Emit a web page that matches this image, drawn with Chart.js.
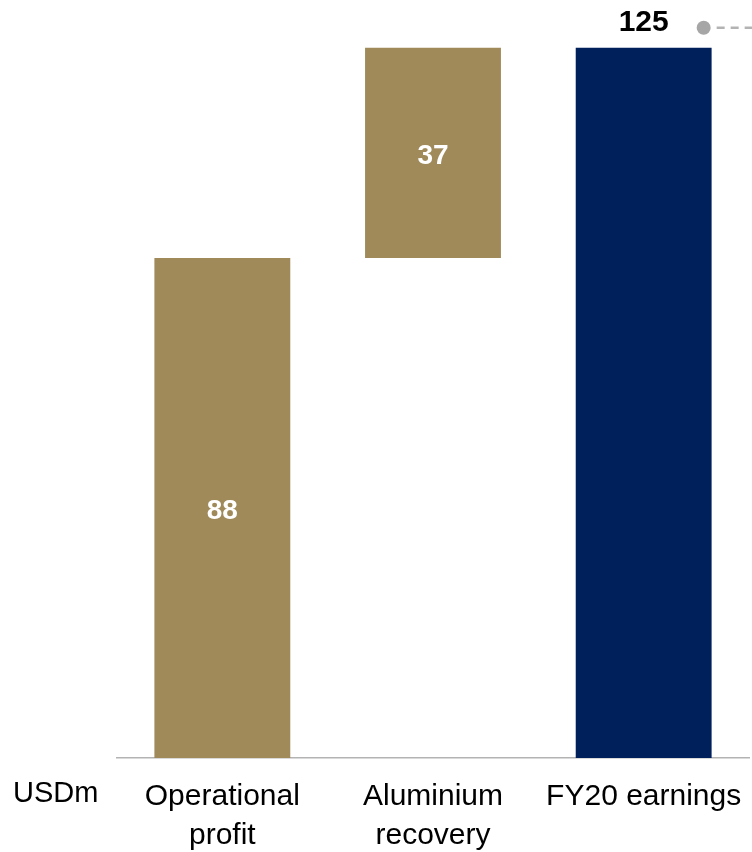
<!DOCTYPE html>
<html>
<head>
<meta charset="utf-8">
<script src="https://cdn.jsdelivr.net/npm/chart.js@4/dist/chart.umd.min.js"></script>
<style>
  body { margin: 0; background: #fff; }
  canvas { display: block; }
</style>
</head>
<body>
<canvas id="bridge-chart" width="752" height="852"></canvas>
<script>
const categories = [["Operational", "profit"], ["Aluminium", "recovery"], "FY20 earnings"];
const barStarts = [0, 88, 0];
const barEnds = [88, 125, 125];
const valueLabels = [88, 37, 125];
const unitLabel = "USDm";

const gold = "#a08a5a";
const navy = "#00205b";
const fontFamily = "'Liberation Sans', Arial, sans-serif";

const ctx = document.getElementById("bridge-chart").getContext("2d");

// value labels: inside the step bars, above the total bar
const barValues = {
  id: "barValues",
  afterDatasetsDraw(chart) {
    const c = chart.ctx;
    const meta = chart.getDatasetMeta(0);
    c.save();
    c.textAlign = "center";
    c.textBaseline = "middle";
    meta.data.forEach((bar, i) => {
      const isTotal = i === meta.data.length - 1;
      if (isTotal) {
        c.font = "bold 30px " + fontFamily;
        c.fillStyle = "#000";
        c.fillText(valueLabels[i], bar.x, bar.y - 25);
        // connector to the next panel
        const y = bar.y - 20;
        const x0 = bar.x + 60;
        c.fillStyle = "#a6a6a6";
        c.beginPath();
        c.arc(x0, y, 7, 0, Math.PI * 2);
        c.fill();
        c.strokeStyle = "#b3b3b3";
        c.lineWidth = 2.5;
        c.setLineDash([8, 6]);
        c.beginPath();
        c.moveTo(x0 + 13, y);
        c.lineTo(chart.width, y);
        c.stroke();
      } else {
        c.font = "bold 28px " + fontFamily;
        c.fillStyle = "#fff";
        c.fillText(valueLabels[i], bar.x, (bar.y + bar.base) / 2 + 3);
      }
    });
    c.restore();

    // unit label at the left of the category axis
    c.save();
    c.font = "29px " + fontFamily;
    c.fillStyle = "#000";
    c.textAlign = "left";
    c.textBaseline = "middle";
    c.fillText(unitLabel, 13, 794);
    c.restore();
  },
};

const bridgeChart = new Chart(ctx, {
  type: "bar",
  data: {
    labels: categories,
    datasets: [
      {
        data: barStarts.map((s, i) => [s, barEnds[i]]),
        backgroundColor: [gold, gold, navy],
        borderWidth: 0,
        barPercentage: 0.645,
        categoryPercentage: 1,
      },
    ],
  },
  options: {
    responsive: false,
    animation: false,
    layout: { padding: { left: 117, top: 8, right: 3, bottom: 0 } },
    plugins: {
      legend: { display: false },
      tooltip: { enabled: false },
    },
    scales: {
      x: {
        grid: { display: false, drawTicks: false },
        border: { color: "#b3b3b3", width: 1.5 },
        ticks: {
          color: "#000",
          font: { family: fontFamily, size: 30, lineHeight: 1.3 },
          padding: 19,
          maxRotation: 0,
          autoSkip: false,
        },
        afterFit(scale) {
          scale.height = 94;
          scale.paddingLeft = 0;
          scale.paddingRight = 0;
        },
      },
      y: {
        display: false,
        min: 0,
        max: 132,
      },
    },
  },
  plugins: [barValues],
});
</script>
</body>
</html>
